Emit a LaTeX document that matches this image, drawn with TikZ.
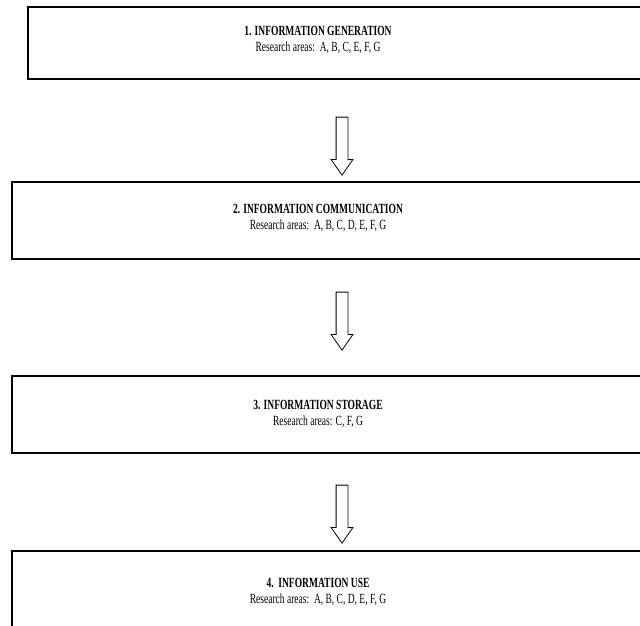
\documentclass[tikz,border=0pt]{standalone}
\usepackage{fontspec}
\setmainfont{Liberation Serif}
\newfontfamily\stagefont[FakeStretch=0.68]{Liberation Serif}
\usetikzlibrary{positioning}
\usetikzlibrary{shapes.arrows}
\tikzset{
        % Stage boxes
        stagebox/.style={rectangle, draw=black, line width=1.4pt, inner sep=0pt},
        % Text inside the stage boxes
        stagetext/.style={align=center, inner sep=0pt, font=\stagefont\fontsize{14}{16}\selectfont},
        % Hollow arrows between the stages
        stagearrow/.style={single arrow, draw=black, line width=0.8pt, fill=white, rotate=-90,
                minimum height=58pt, inner xsep=0pt, inner ysep=5.5pt,
                single arrow head extend=5pt, single arrow tip angle=70, single arrow head indent=0pt}
}

\begin{document}
\begin{tikzpicture}[x=1pt, y=1pt]
            \useasboundingbox (0,0) rectangle (640,-625);
            \clip (0,0) rectangle (640,-625);
            % Stages
            \node[stagebox, minimum width=628pt, minimum height=72pt] (s1) at (342,-43) {};
            \node[stagebox, minimum width=660pt, minimum height=77pt] (s2) at (342,-220.5) {};
            \node[stagebox, minimum width=660pt, minimum height=77pt] (s3) at (342,-414.5) {};
            \node[stagebox, minimum width=660pt, minimum height=77pt] (s4) at (342,-589.5) {};
            \node[stagetext] (t1) at ([xshift=-24pt, yshift=3pt]s1.center) {\textbf{1. INFORMATION GENERATION}\\Research areas:\ \ A, B, C, E, F, G};
            \node[stagetext] (t2) at ([xshift=-24pt, yshift=3pt]s2.center) {\textbf{2. INFORMATION COMMUNICATION}\\Research areas:\ \ A, B, C, D, E, F, G};
            \node[stagetext] (t3) at ([xshift=-24pt, yshift=1pt]s3.center) {\textbf{3. INFORMATION STORAGE}\\Research areas: C, F, G};
            \node[stagetext] (t4) at ([xshift=-24pt, yshift=-2pt]s4.center) {\textbf{4.\ \ INFORMATION USE}\\Research areas:\ \ A, B, C, D, E, F, G};
            % Arrows
            \node[stagearrow, anchor=tail] (a1) at ([yshift=-37pt]s1.south) {};
            \node[stagearrow, anchor=tail] (a2) at ([yshift=-32pt]s2.south) {};
            \node[stagearrow, anchor=tail] (a3) at ([yshift=-31pt]s3.south) {};
\end{tikzpicture}
\end{document}
